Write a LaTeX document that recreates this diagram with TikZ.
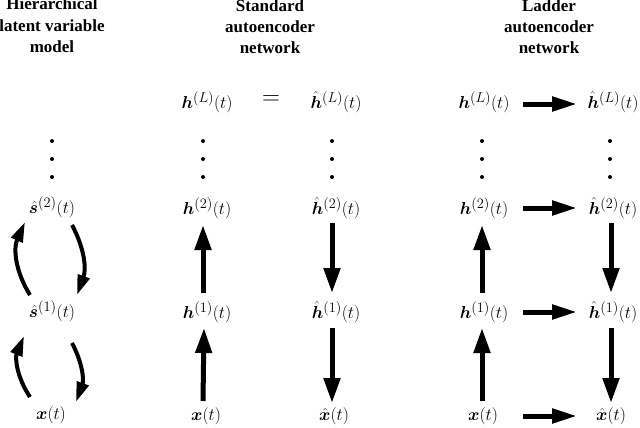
\documentclass[tikz,border=0pt]{standalone}
\usepackage{amsmath}
\usepackage{bm}
\usepackage[no-math]{fontspec}
\setmainfont{Liberation Serif}
\usetikzlibrary{arrows.meta}
\begin{document}
\begin{tikzpicture}[x=1pt,y=-1pt,
  lab/.style={font=\fontsize{19}{22}\selectfont, inner sep=0pt},
  ttl/.style={font=\fontsize{17}{20}\selectfont\bfseries, inner sep=0pt, anchor=base},
  varrow/.style={line width=5pt, -{Triangle[length=25pt,width=16pt]}},
  harrow/.style={line width=5pt, -{Triangle[length=25pt,width=14pt]}},
  carrow/.style={line width=4pt, -{Triangle[length=20pt,width=12pt]}},
  dotm/.style={fill=black}
]
\useasboundingbox (0,0) rectangle (640,428);
% titles
\node[ttl] (t1a) at (52,10) {Hierarchical};
\node[ttl] (t1b) at (52,31.5) {latent variable};
\node[ttl] (t1c) at (52,53) {model};
\node[ttl] (t2a) at (270,12) {Standard};
\node[ttl] (t2b) at (270,33) {autoencoder};
\node[ttl] (t2c) at (270,54) {network};
\node[ttl] (t3a) at (549,12) {Ladder};
\node[ttl] (t3b) at (549,33) {autoencoder};
\node[ttl] (t3c) at (549,54) {network};
% column 1
\node[lab] (s2) at (52,207) {$\hat{\bm{s}}^{(2)}(t)$};
\node[lab] (s1) at (52,311) {$\hat{\bm{s}}^{(1)}(t)$};
\node[lab] (x1) at (51,415) {$\bm{x}(t)$};
% column 2
\node[lab] (hL) at (207,102) {$\bm{h}^{(L)}(t)$};
\node[lab] (eq) at (271,100) {\fontsize{28}{30}\selectfont$=$};
\node[lab] (hhL) at (336,102) {$\hat{\bm{h}}^{(L)}(t)$};
\node[lab] (h2) at (207,208) {$\bm{h}^{(2)}(t)$};
\node[lab] (hh2) at (336,208) {$\hat{\bm{h}}^{(2)}(t)$};
\node[lab] (h1) at (207,312) {$\bm{h}^{(1)}(t)$};
\node[lab] (hh1) at (336,312) {$\hat{\bm{h}}^{(1)}(t)$};
\node[lab] (x2) at (206,416) {$\bm{x}(t)$};
\node[lab] (xh2) at (334,416) {$\hat{\bm{x}}(t)$};
% column 3
\node[lab] (lL) at (484,102) {$\bm{h}^{(L)}(t)$};
\node[lab] (lhL) at (613,102) {$\hat{\bm{h}}^{(L)}(t)$};
\node[lab] (l2) at (484,208) {$\bm{h}^{(2)}(t)$};
\node[lab] (lh2) at (613,208) {$\hat{\bm{h}}^{(2)}(t)$};
\node[lab] (l1) at (484,312) {$\bm{h}^{(1)}(t)$};
\node[lab] (lh1) at (613,312) {$\hat{\bm{h}}^{(1)}(t)$};
\node[lab] (lx) at (483,416) {$\bm{x}(t)$};
\node[lab] (lxh) at (611,416) {$\hat{\bm{x}}(t)$};
% dots
\foreach \cx in {52,203,332,482,610}{
  \foreach \cy in {141,159,177}{
    \fill[dotm] (\cx,\cy) circle (2pt);
  }
}
% column 1 curved arrows
\draw[carrow] ([shift={(-22,-16)}]s1.center) to[bend left=28] ([shift={(-27,15)}]s2.center);
\draw[carrow] ([shift={(20,18)}]s2.center) to[bend left=24] ([shift={(25,-16)}]s1.center);
\draw[carrow] ([shift={(-21,-18)}]x1.center) to[bend left=28] ([shift={(-28,25)}]s1.center);
\draw[carrow] ([shift={(20,32)}]s1.center) to[bend left=24] ([shift={(25,-13)}]x1.center);
% column 2 arrows
\draw[varrow] ([shift={(-4,-19)}]h1.center) -- ([shift={(-4,17)}]h2.center);
\draw[varrow] ([shift={(-3,-15)}]x2.center) -- ([shift={(-3,16)}]h1.center);
\draw[varrow] ([shift={(-4,15)}]hh2.center) -- ([shift={(-4,-19)}]hh1.center);
\draw[varrow] ([shift={(-4,16)}]hh1.center) -- ([shift={(-2,-13)}]xh2.center);
% column 3 arrows
\draw[varrow] ([shift={(-2,-19)}]l1.center) -- ([shift={(-2,17)}]l2.center);
\draw[varrow] ([shift={(-1,-15)}]lx.center) -- ([shift={(-2,16)}]l1.center);
\draw[varrow] ([shift={(-2,15)}]lh2.center) -- ([shift={(-2,-19)}]lh1.center);
\draw[varrow] ([shift={(-2,16)}]lh1.center) -- ([shift={(0,-13)}]lxh.center);
\draw[harrow] ([shift={(39,2)}]lL.center) -- ([shift={(-36,2)}]lhL.center);
\draw[harrow] ([shift={(39,0)}]l2.center) -- ([shift={(-36,0)}]lh2.center);
\draw[harrow] ([shift={(39,0)}]l1.center) -- ([shift={(-36,0)}]lh1.center);
\draw[harrow] ([shift={(40,0)}]lx.center) -- ([shift={(-34,0)}]lxh.center);
\end{tikzpicture}
\end{document}
